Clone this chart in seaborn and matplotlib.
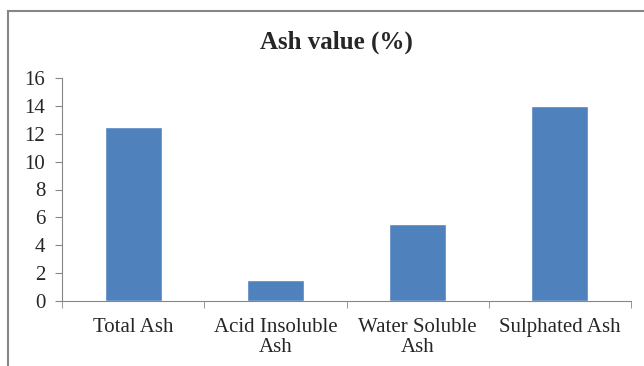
import matplotlib
matplotlib.use("Agg")
import matplotlib.pyplot as plt
import seaborn as sns
import pandas as pd
import numpy as np
from matplotlib.patches import Rectangle

sns.set_style("white")
plt.rcParams['font.family'] = ['Liberation Serif', 'DejaVu Serif']

categories = ["Total Ash", "Acid Insoluble\nAsh", "Water Soluble\nAsh", "Sulphated Ash"]
values = [12.5, 1.5, 5.5, 14.0]
yticks = [0, 2, 4, 6, 8, 10, 12, 14, 16]

df = pd.DataFrame({"cat": categories, "val": values})

fig = plt.figure(figsize=(6.44, 3.66), dpi=100)
ax = fig.add_axes([62/644, 1 - 301/366, (631 - 62)/644, (301 - 78)/366])

sns.barplot(data=df, x="cat", y="val", color="#4F81BD", saturation=1,
            width=0.4, ax=ax)

ax.set_ylim(0, 16)
ax.set_xlim(-0.5, 3.5)
ax.set_yticks(yticks)
ax.set_xlabel("")
ax.set_ylabel("")

for s in ["top", "right"]:
    ax.spines[s].set_visible(False)
for s in ["left", "bottom"]:
    ax.spines[s].set_color("#868686")
    ax.spines[s].set_linewidth(0.8)

ax.tick_params(axis="y", which="major", length=5, color="#868686",
               labelsize=15, pad=7, direction="out", left=True)
ax.tick_params(axis="x", which="major", length=0, labelsize=15, pad=12)
ax.set_xticks(np.arange(-0.5, 4.0, 1.0), minor=True)
ax.tick_params(axis="x", which="minor", length=5, color="#868686",
               direction="out", bottom=True)
for lbl in ax.get_xticklabels():
    lbl.set_linespacing(1.12)

fig.text(336/644, 1 - 42/366, "Ash value (%)", ha="center", va="center",
         fontsize=18, fontweight="bold")

# outer chart border, cut off on the right and bottom
fig.patches.append(Rectangle((8/644, -0.1), 1.1, 1 - 11/366 + 0.1,
                             transform=fig.transFigure, fill=False,
                             edgecolor="#868686", linewidth=1.5))

fig.savefig("out.png", dpi=100)
